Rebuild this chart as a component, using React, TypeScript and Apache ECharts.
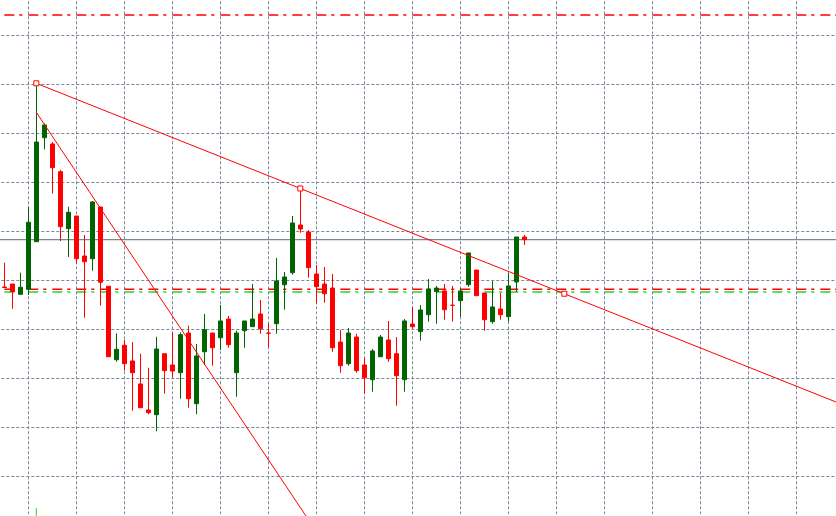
import React, { useEffect, useRef } from "react";
import * as echarts from "echarts";

// Candles: [open, close, low, high]
const CANDLES: number[][] = [
  [1274.32, 1274.27, 1274.27, 1276.8],
  [1274.62, 1273.84, 1272.1, 1274.62],
  [1273.57, 1274.29, 1273.57, 1275.78],
  [1274.08, 1280.92, 1273.5, 1282.51],
  [1278.94, 1289.11, 1278.94, 1295.1],
  [1289.55, 1290.85, 1288.37, 1291.0],
  [1288.91, 1286.49, 1283.84, 1289.11],
  [1286.08, 1280.47, 1279.01, 1286.26],
  [1280.27, 1281.94, 1277.38, 1282.51],
  [1281.56, 1277.2, 1276.69, 1281.56],
  [1277.48, 1276.9, 1271.18, 1279.62],
  [1277.2, 1282.99, 1275.98, 1283.09],
  [1282.48, 1274.8, 1272.41, 1282.48],
  [1274.39, 1267.2, 1267.2, 1274.39],
  [1266.9, 1267.96, 1266.69, 1269.59],
  [1268.37, 1266.49, 1265.78, 1268.91],
  [1266.77, 1265.57, 1261.69, 1268.7],
  [1264.42, 1262.0, 1262.0, 1267.51],
  [1261.77, 1261.49, 1261.33, 1266.08],
  [1261.29, 1267.99, 1259.59, 1269.24],
  [1267.51, 1265.78, 1263.43, 1267.51],
  [1266.36, 1265.74, 1265.1, 1269.69],
  [1265.57, 1269.45, 1262.92, 1269.69],
  [1269.62, 1262.92, 1262.0, 1270.37],
  [1262.41, 1267.28, 1261.33, 1268.5],
  [1267.71, 1269.96, 1266.36, 1271.56],
  [1269.62, 1268.12, 1266.29, 1269.62],
  [1269.14, 1270.85, 1267.89, 1272.48],
  [1271.05, 1268.43, 1268.12, 1271.36],
  [1265.57, 1269.62, 1263.12, 1269.86],
  [1269.86, 1270.85, 1268.12, 1270.85],
  [1270.27, 1271.05, 1270.27, 1274.62],
  [1271.56, 1270.06, 1269.55, 1272.99],
  [1269.61, 1269.59, 1268.16, 1270.61],
  [1270.57, 1274.93, 1269.55, 1277.28],
  [1274.55, 1275.34, 1272.0, 1275.85],
  [1275.78, 1280.85, 1275.57, 1281.56],
  [1280.64, 1280.23, 1279.86, 1284.37],
  [1279.93, 1276.29, 1275.27, 1280.13],
  [1275.64, 1274.35, 1272.65, 1276.56],
  [1274.62, 1273.63, 1272.71, 1276.36],
  [1274.21, 1268.12, 1267.71, 1275.64],
  [1268.7, 1266.29, 1265.57, 1269.93],
  [1266.49, 1269.62, 1266.29, 1270.13],
  [1269.21, 1265.78, 1265.57, 1269.55],
  [1266.36, 1265.06, 1263.43, 1267.1],
  [1264.86, 1267.79, 1263.63, 1267.99],
  [1267.2, 1269.21, 1267.2, 1269.42],
  [1268.91, 1267.0, 1266.69, 1270.85],
  [1267.51, 1265.27, 1262.2, 1269.21],
  [1264.86, 1270.85, 1263.63, 1271.05],
  [1270.54, 1270.27, 1270.06, 1272.28],
  [1269.76, 1271.97, 1268.84, 1272.48],
  [1271.49, 1274.11, 1270.78, 1275.13],
  [1273.84, 1274.21, 1270.57, 1274.42],
  [1273.91, 1272.0, 1270.98, 1274.62],
  [1272.46, 1272.45, 1270.78, 1274.42],
  [1272.92, 1273.91, 1271.29, 1274.21],
  [1274.55, 1277.79, 1274.35, 1277.79],
  [1276.05, 1273.43, 1273.43, 1276.05],
  [1273.7, 1270.98, 1269.86, 1273.7],
  [1270.78, 1272.28, 1270.57, 1274.93],
  [1272.07, 1271.49, 1270.98, 1273.7],
  [1271.29, 1274.42, 1270.78, 1275.74],
  [1274.83, 1279.42, 1273.81, 1279.42],
  [1279.42, 1279.14, 1278.6, 1279.62],
];

// Slot layout: one empty slot before the first candle, empty slots to the right
const TOTAL_SLOTS = 106;
const FIRST_SLOT = 1;
const CATEGORIES: string[] = Array.from({ length: TOTAL_SLOTS }, (_, i) => String(i));

// Trend lines: [candle index, price]
const TREND_A: number[][] = [
  [4, 1295.1],
  [37, 1284.37],
  [70, 1273.63],
  [104, 1262.57],
];
const TREND_A_ANCHORS = 3;
const TREND_B: number[][] = [
  [4, 1292.14],
  [40, 1248.15],
];

// Horizontal levels
const TOP_LEVEL = 1302.07;
const RED_LEVEL = 1274.08;
const GREEN_LEVEL = 1273.81;
const BID_LEVEL = 1279.16;
const MARK_TICK: number[][] = [
  [4, 1251.77],
  [4, 1250.0],
];

// Y axis
const Y_MIN = 1250;
const Y_MAX = 1305;
const Y_STEP = 5;

const GRID_COLOR = "#778899";
const UP = "#006400";
const DOWN = "#ff0000";

export default function App() {
  const ref = useRef<HTMLDivElement>(null);

  useEffect(() => {
    if (!ref.current) return;
    const chart = echarts.init(ref.current, undefined, { renderer: "svg" });
    const lastSlot = TOTAL_SLOTS - 1;
    const hLine = (v: number, from: number, color: string, type: any, width: number, z: number) => ({
      type: "line",
      data: [
        [from, v],
        [lastSlot, v],
      ],
      symbol: "none",
      silent: true,
      lineStyle: { color, type, width },
      z,
    });

    const option: any = {
      animation: false,
      backgroundColor: "#ffffff",
      grid: {
        left: -3.7,
        right: -0.3,
        top: -13.7,
        bottom: -9.3,
        containLabel: false,
        outerBoundsMode: "none",
      },
      xAxis: {
        type: "category",
        data: CATEGORIES,
        boundaryGap: false,
        axisLine: { show: false },
        axisTick: { show: false },
        axisLabel: { show: false },
        splitLine: {
          show: true,
          interval: (i: number) => i >= FIRST_SLOT + 3 && (i - FIRST_SLOT - 3) % 6 === 0,
          lineStyle: { color: GRID_COLOR, type: [3, 2], width: 1 },
        },
      },
      yAxis: {
        type: "value",
        min: Y_MIN,
        max: Y_MAX,
        interval: Y_STEP,
        axisLine: { show: false },
        axisTick: { show: false },
        axisLabel: { show: false },
        splitLine: {
          show: true,
          lineStyle: { color: GRID_COLOR, type: [3, 2], width: 1 },
        },
      },
      series: [
        hLine(BID_LEVEL, 0, GRID_COLOR, "solid", 1.3, 1),
        hLine(TOP_LEVEL, FIRST_SLOT, DOWN, [10, 5, 3, 6], 1.6, 1),
        hLine(RED_LEVEL, FIRST_SLOT, DOWN, [10, 5, 3, 6], 1.6, 1),
        hLine(GREEN_LEVEL, FIRST_SLOT, "#32cd32", [10, 5, 3, 6], 1.6, 1),
        {
          type: "line",
          data: MARK_TICK.map(([i, v]) => [i + FIRST_SLOT, v]),
          symbol: "none",
          silent: true,
          lineStyle: { color: "#32cd32", width: 1 },
          z: 1,
        },
        {
          type: "candlestick",
          data: CANDLES.map((c, i) => [i + FIRST_SLOT, c[0], c[1], c[2], c[3]]),
          encode: { x: 0, y: [1, 2, 3, 4] },
          barWidth: 4,
          clip: false,
          silent: true,
          itemStyle: {
            color: UP,
            color0: DOWN,
            borderColor: UP,
            borderColor0: DOWN,
            borderWidth: 1,
          },
          z: 3,
        },
        {
          type: "line",
          data: TREND_B.map(([i, v]) => [i + FIRST_SLOT, v]),
          symbol: "none",
          silent: true,
          lineStyle: { color: DOWN, width: 1 },
          z: 5,
        },
        {
          type: "line",
          data: TREND_A.map(([i, v], k) => ({
            value: [i + FIRST_SLOT, v],
            symbol: k < TREND_A_ANCHORS ? "rect" : "none",
          })),
          showAllSymbol: true,
          symbolSize: 5,
          silent: true,
          lineStyle: { color: DOWN, width: 1 },
          itemStyle: { color: "#ffffff", borderColor: DOWN, borderWidth: 1 },
          z: 5,
        },
      ],
    };
    chart.setOption(option);
    return () => chart.dispose();
  }, []);

  return (
    <div
      ref={ref}
      style={{ position: "fixed", left: 0, top: 0, width: 836, height: 516, background: "#ffffff" }}
    />
  );
}
